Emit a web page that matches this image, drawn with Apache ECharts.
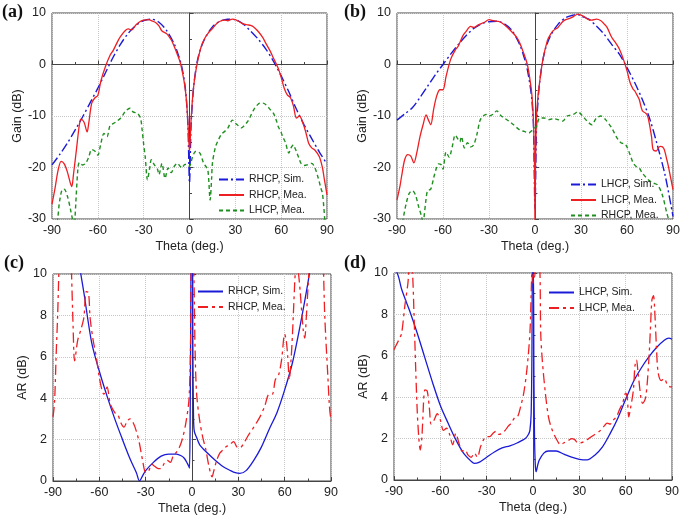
<!DOCTYPE html>
<html><head><meta charset="utf-8">
<script src="https://cdn.jsdelivr.net/npm/echarts@6/dist/echarts.min.js"></script>
<style>html,body{margin:0;padding:0;background:#fff}#c{width:685px;height:519px}</style>
</head><body><div id="c"></div>
<script>
// ---- Data (theta in deg, value in dB) ----
const thetaTicks = [-90,-60,-30,0,30,60,90];
const panelLabels = ['(a)','(b)','(c)','(d)'];

// (a) Gain, RHCP antenna
const a_rhcpSim = [[-90,-19.5],[-85,-17.5],[-80,-15.3],[-75,-12.8],[-70,-10.2],[-65,-7.4],[-60,-4.6],[-55,-1.6],[-50,1.4],[-45,4.0],[-40,6.1],[-35,7.6],[-30,8.5],[-25,8.8],[-20,8.2],[-15,6.6],[-10,4.0],[-7,1.6],[-5,-0.5],[-3,-4],[-2,-7],[-1,-12],[0,-23],[1,-12],[2,-7],[3,-3.5],[5,0.5],[7,2.8],[10,5.0],[15,7.3],[20,8.4],[25,8.8],[30,8.7],[35,7.9],[40,6.5],[45,4.9],[50,3.0],[55,0.6],[60,-2.2],[65,-5.3],[70,-8.7],[75,-11.7],[80,-14.4],[85,-17],[90,-19.3]];
const a_rhcpMea = [[-90,-27.1],[-88,-24],[-86,-20.5],[-84,-18.8],[-82,-19.3],[-80,-20.8],[-78,-23],[-77,-23.7],[-76,-21.5],[-74,-16.5],[-72,-11.5],[-71,-10.6],[-69,-11.2],[-67,-13.1],[-66,-11.5],[-64,-7.5],[-62,-6.5],[-60,-6.0],[-58,-3.2],[-55,-0.4],[-52,1.8],[-50,2.7],[-47,4.5],[-45,5.5],[-42,6.6],[-40,6.9],[-38,6.7],[-35,7.7],[-32,8.4],[-30,8.6],[-27,8.7],[-24,8.4],[-22,8.1],[-20,7.5],[-18,6.5],[-15,6.0],[-12,4.8],[-10,3.5],[-8,2.0],[-6,0.3],[-4,-2.5],[-3,-4.3],[-2,-7],[-1,-11.5],[0,-17],[1,-11],[2,-6.5],[3,-3.6],[4,-1.5],[6,1.6],[8,3.8],[10,5.1],[12,6.0],[15,7.0],[18,8.0],[20,8.4],[23,8.6],[25,8.5],[28,8.8],[30,8.7],[32,8.4],[35,7.9],[38,7.7],[40,7.6],[42,7.3],[45,6.4],[48,5.2],[50,4.1],[53,2.5],[55,1.2],[58,-0.7],[60,-2.5],[62,-4.6],[64,-5.9],[66,-6.4],[68,-8],[70,-10.4],[72,-10.0],[74,-11.2],[76,-13],[78,-15.3],[80,-16.2],[82,-16.6],[85,-17.9],[87,-20],[88,-21.8],[90,-25.3]];
const a_lhcpMea = [[-90,-36],[-88,-33],[-86.3,-30],[-85,-26.5],[-83,-24.2],[-82,-24.2],[-80,-25.5],[-78,-28],[-76,-31],[-75.5,-32],[-75,-30],[-73,-20],[-72,-19],[-70,-19.5],[-68,-19.2],[-66,-18],[-64,-16.5],[-62,-16.8],[-60,-17.6],[-58,-15.3],[-56,-13.4],[-54,-14],[-52,-11.8],[-50,-11.5],[-48,-11.1],[-45,-10.4],[-42,-9.1],[-39,-8.5],[-37,-9.2],[-34,-9.5],[-32,-10.5],[-31,-12.7],[-30,-15.5],[-29,-17.9],[-27.5,-22.4],[-26,-20],[-25,-18.5],[-23,-19.5],[-21,-20.3],[-20,-21.4],[-18,-19.2],[-16,-22.1],[-14,-20.1],[-12,-21],[-10,-19.8],[-8,-19.2],[-6,-19.8],[-5,-20.1],[-3,-19.4],[-1,-19.5],[0,-19.8],[1,-19],[2,-17.9],[4,-16.9],[5,-16.9],[7,-17.3],[9,-19],[10,-19.5],[12,-20.5],[13.5,-26.3],[14.5,-22],[15,-19.2],[17,-16],[19,-14.6],[21,-13.5],[23,-13],[25,-12.4],[27,-11.2],[28,-10.8],[30,-11.4],[32,-11.9],[34,-12.3],[36,-11.8],[38,-11.1],[40,-10],[42,-8.8],[44,-8],[46,-7.5],[48,-7.5],[50,-7.8],[53,-8.8],[55,-9.5],[57,-11],[58,-12],[60,-13.2],[61,-14],[63,-15.3],[64,-16.5],[65,-17.2],[66,-16.5],[67,-15.9],[68,-15.6],[69,-16.2],[70,-16.9],[72,-18.5],[73,-19.2],[75,-19.6],[77,-19.5],[80,-19.2],[82,-20],[84,-21.8],[86,-24],[87,-25],[88,-28],[88.5,-30],[89.5,-33]];

// (b) Gain, LHCP antenna
const b_lhcpSim = [[-90,-10.8],[-85,-9.6],[-80,-8.4],[-75,-6.4],[-70,-4.2],[-65,-2.0],[-60,0],[-55,2.0],[-50,3.9],[-45,5.6],[-40,7.0],[-35,7.9],[-30,8.3],[-25,8.4],[-20,7.9],[-15,6.6],[-10,3.9],[-7,1.3],[-5,-1],[-3,-4.5],[-2,-7],[-1,-12],[0,-28],[1,-12],[2,-7],[3,-3.5],[5,0.7],[7,3.2],[10,5.5],[15,7.8],[20,9.1],[25,9.6],[28,9.7],[30,9.4],[35,8.8],[40,7.5],[45,5.9],[50,3.9],[55,2.0],[60,-0.6],[65,-3.5],[70,-6.8],[75,-10.7],[80,-15.9],[85,-21.7],[90,-29.5]];
const b_lhcpMea = [[-90,-26.3],[-88,-23.5],[-87,-21.7],[-85,-18.5],[-83,-17.5],[-81,-17.8],[-79,-19.1],[-77,-17],[-75,-14],[-73,-11.7],[-71,-9.8],[-69.5,-10.8],[-68,-11.7],[-66,-8.5],[-64,-6],[-62,-4.9],[-60,-4.9],[-58,-2.3],[-55,1.0],[-52,2.8],[-50,3.6],[-47,5.6],[-45,6.4],[-42,7.4],[-40,7.2],[-37,7.7],[-33,8.2],[-30,8.7],[-27,8.5],[-23,8.3],[-20,7.7],[-16,6.6],[-12,5.3],[-10,4.2],[-8,2.7],[-5,0],[-3,-3.5],[-2,-6],[-1,-11],[-0.3,-20],[0,-32],[0.3,-20],[1,-10],[2,-6],[3,-3.5],[5,0.7],[8,4.6],[10,5.8],[12,6.6],[15,7.2],[18,8.3],[20,8.7],[23,9.0],[25,9.3],[28,9.8],[30,9.6],[32,9.3],[35,8.7],[37,8.6],[40,8.8],[43,8.5],[45,7.9],[47,7.2],[50,5.3],[53,4.0],[55,3.0],[58,0.7],[60,-1.2],[62,-3.5],[64,-4.8],[65,-5.1],[67,-6.2],[68,-6.8],[70,-9.0],[72,-9.4],[73,-9.7],[74,-10.6],[76,-14],[77,-16.5],[79,-16.8],[81,-16],[82,-15.9],[84,-16.3],[86,-18.5],[87,-19.8],[90,-24.3]];
const b_rhcpMea = [[-90,-36],[-87,-32],[-86,-30],[-84,-27],[-82,-25],[-80,-24.5],[-78,-25.3],[-76,-27.5],[-74,-29.5],[-73,-31],[-72.5,-30],[-71,-26],[-70,-24.5],[-68,-24.2],[-66,-21.9],[-64,-19.8],[-63,-19.3],[-61,-19.5],[-60,-20.3],[-58,-17],[-56,-18],[-54,-16],[-52,-13.7],[-50,-14.6],[-49,-15],[-48,-14],[-46,-16.2],[-44,-15.2],[-42,-16],[-40,-15.6],[-38,-13.7],[-36,-11],[-35,-10.4],[-32,-9.7],[-30,-10],[-27,-9.6],[-25,-9.0],[-22,-10],[-20,-10.4],[-17,-11],[-14,-11.7],[-10,-12.7],[-7,-13],[-4,-13.3],[-2,-12.8],[-1,-12.5],[1,-12],[3,-10.4],[6,-10.4],[9,-10.7],[12,-10.5],[15,-10.7],[18,-11],[21,-10],[25,-9.7],[28,-9.2],[31,-10],[34,-11],[37,-11.7],[40,-10.4],[43,-10],[46,-10.7],[50,-12.3],[53,-14],[56,-15.2],[59,-15.5],[62,-17.5],[64,-19.1],[66,-19.8],[68,-20.1],[70,-21.1],[74,-22.4],[77,-23],[80,-23.4],[83,-25.3],[86,-28.9],[87,-30],[88,-33]];

// (c) AR, RHCP antenna
const c_rhcpSim = [[-76,11.8],[-72,10.0],[-70,9.1],[-65,6.7],[-60,5.3],[-55,4.1],[-50,3.0],[-45,2.0],[-40,1.05],[-36,0.4],[-34,0],[-32,0.25],[-30,0.5],[-25,0.9],[-20,1.2],[-15,1.3],[-10,1.3],[-7,1.22],[-5,1.1],[-3,0.85],[-2,0.7],[-1.6,0.62],[-1.2,3],[-0.8,8],[-0.4,12],[0.2,12],[0.6,6],[1,3],[1.5,2.4],[3,2.1],[5,1.75],[10,1.35],[15,1.0],[20,0.7],[25,0.5],[28,0.4],[31,0.37],[35,0.5],[40,1.0],[45,1.65],[50,2.5],[55,3.3],[60,4.4],[65,5.7],[70,7.5],[75,9.55],[78,11]];
const c_rhcpMea = [[-90,3.1],[-89,3.8],[-88,6],[-87,8],[-86,10.5],[-85,12],[-79,12],[-78,10],[-77,7.5],[-76,5.8],[-74,6.8],[-72,7.3],[-70,7.9],[-68.5,9.15],[-67,9.1],[-66,7.9],[-64,6.8],[-62,6.0],[-60,5.0],[-58,4.3],[-57,4.2],[-55,4.55],[-53,3.75],[-50,3.3],[-48,3.2],[-46,2.8],[-44,2.6],[-42,2.9],[-40,3.0],[-38,2.8],[-36,2.4],[-34,1.8],[-32,1.0],[-30,0.4],[-28,0.5],[-26,0.8],[-24,0.7],[-22,0.6],[-20,0.6],[-18,0.85],[-16,1.0],[-14,0.9],[-12,1.25],[-10,1.4],[-8,1.65],[-6,2.1],[-4,2.8],[-2,3.9],[-1,6.3],[-0.5,10.5],[0,11],[0.5,11],[1.2,10],[2,6.3],[3,4.2],[5,2.9],[7,2.1],[9,1.5],[11,0.7],[13,0.2],[14,0.45],[16,1.0],[18,1.35],[20,1.5],[22,1.65],[25,1.8],[27,1.9],[29,1.65],[31,1.6],[33,1.75],[36,2.15],[40,2.6],[44,3.1],[47,3.6],[50,4.2],[52,4.2],[54,4.9],[56,5.1],[58,5.85],[60,7.1],[61,6.8],[62,6.0],[63,4.9],[64,5.7],[65,7.0],[66,8.7],[67,10.2],[68,10.6],[69,10],[70,9.2],[72,7.3],[73,6.9],[74,7.9],[75,9.2],[76,10.5],[77,12],[84,12],[85,10.5],[86,7.9],[88,5.0],[89,3.6],[90,2.9]];

// (d) AR, LHCP antenna
const d_lhcpSim = [[-90,10.4],[-87,9.8],[-85,9.2],[-80,8.2],[-75,7.1],[-70,5.9],[-65,4.7],[-60,3.6],[-55,2.75],[-50,1.95],[-45,1.3],[-40,0.9],[-38,0.8],[-35,0.85],[-30,1.1],[-25,1.35],[-20,1.55],[-15,1.65],[-10,1.8],[-5,2.0],[-3,2.2],[-2,2.4],[-1.2,3.2],[-0.7,6],[-0.3,10.5],[0.2,10.5],[0.6,5],[1,2],[1.5,0.7],[2,0.4],[3,0.7],[4,0.95],[7,1.3],[10,1.4],[15,1.4],[20,1.25],[25,1.1],[30,1.0],[35,0.97],[40,1.2],[45,1.6],[50,2.25],[55,3.0],[60,3.9],[65,4.75],[70,5.4],[75,5.95],[80,6.4],[85,6.75],[88,6.85],[90,6.8]];
const d_lhcpMea = [[-90,6.3],[-88,6.6],[-86,6.9],[-85,7.1],[-83,8.4],[-81,9.5],[-80,10.4],[-79,10.5],[-78,10],[-77,7.9],[-76,5.5],[-75,3.4],[-74,2.1],[-73,1.45],[-72,2.0],[-71.5,2.7],[-70,4.35],[-68.5,4.3],[-67,3.4],[-66,2.7],[-64,2.9],[-62,3.2],[-60,2.9],[-58,2.4],[-56,2.5],[-54,2.2],[-52,1.7],[-50,2.25],[-48,1.8],[-46,1.4],[-44,1.45],[-42,1.2],[-40,1.1],[-38,1.3],[-36,1.1],[-34,1.6],[-32,1.95],[-30,2.1],[-28,2.1],[-26,2.25],[-24,2.35],[-22,2.2],[-20,2.25],[-18,2.4],[-16,2.6],[-14,2.75],[-12,3.0],[-10,3.05],[-8,3.55],[-6,4.2],[-4,5.3],[-2,7.1],[-1,9.5],[-0.5,10.5],[0,9.5],[0.5,10.5],[1,9.8],[2,10.5],[3.5,11],[4.5,10],[5,7.1],[6,5.8],[8,4.2],[10,3.05],[12,2.5],[15,2.0],[18,1.7],[20,1.8],[22,1.85],[25,2.0],[27,1.95],[29,1.8],[31,1.8],[33,1.85],[36,2.0],[38,2.1],[40,2.2],[43,2.35],[46,2.6],[48,2.75],[50,2.7],[52,2.9],[54,3.05],[56,3.4],[58,3.7],[60,4.2],[61,4.0],[62,3.05],[63,3.4],[65,4.35],[66,5.5],[67,5.8],[68,5.2],[70,3.9],[71,3.7],[73,4.0],[75,5.8],[76,7.25],[77,8.7],[78,8.9],[79,7.9],[80,6.3],[81,5.2],[83,4.8],[85,4.9],[87,4.6],[89,4.5],[90,4.5]];

// ---- Chart ----
const FONT = "Arial, 'Liberation Sans', sans-serif";
const TXT = '#222';
const BLUE = '#1a1ad8', RED = '#ee1f23', GREEN = '#1f8f1f';
const DASHDOT = [9,3,2,3], REDDASHDOT = [10,4,3,4], DASH = [4,3];

const grids = [
  {left:52, top:13, right:358, bottom:300},
  {left:397, top:13, right:12, bottom:300},
  {left:53, top:274, right:354, bottom:38},
  {left:394, top:273, right:13, bottom:39}
].map(g => Object.assign(g, {show:true, borderColor:'#444', borderWidth:1, backgroundColor:'transparent'}));

function xAx(i){
  return {type:'value', gridIndex:i, min:-90, max:90, interval:30,
    name:'Theta (deg.)', nameLocation:'middle', nameGap:21,
    nameTextStyle:{fontFamily:FONT, fontSize:12.5, color:TXT},
    axisLine:{show:true, lineStyle:{color:'#444', width:1}},
    axisTick:{show:true, inside:true, length:4, lineStyle:{color:'#444'}},
    minorTick:{show:true, splitNumber:2, length:2.5, lineStyle:{color:'#444'}},
    axisLabel:{fontFamily:FONT, fontSize:12.5, color:TXT, margin:5,
      formatter: v => thetaTicks.includes(v) ? String(v) : ''},
    splitLine:{show:true, lineStyle:{color:'#c8c8c8', type:'dotted', width:1}}};
}
function yAx(i, min, max, interval, name){
  return {type:'value', gridIndex:i, min:min, max:max, interval:interval,
    name:name, nameLocation:'middle', nameGap:19,
    nameTextStyle:{fontFamily:FONT, fontSize:12.5, color:TXT},
    axisLine:{show:true, lineStyle:{color:'#444', width:1}},
    axisTick:{show:true, inside:true, length:4, lineStyle:{color:'#444'}},
    minorTick:{show:true, splitNumber:2, length:2.5, lineStyle:{color:'#444'}},
    axisLabel:{fontFamily:FONT, fontSize:12.5, color:TXT, margin:6},
    splitLine:{show:true, lineStyle:{color:'#c8c8c8', type:'dotted', width:1}}};
}

function ser(name, idx, data, color, dash, width, smooth){
  return {name:name, type:'line', xAxisIndex:idx, yAxisIndex:idx, data:data,
    symbol:'none', showSymbol:false, smooth:smooth, clip:true, animation:false,
    lineStyle:{color:color, width:width, type:dash}, itemStyle:{color:color}};
}

const series = [
  ser('a|RHCP, Sim.', 0, a_rhcpSim, BLUE, DASHDOT, 1.4, 0.3),
  ser('a|RHCP, Mea.', 0, a_rhcpMea, RED, 'solid', 1.3, 0.3),
  ser('a|LHCP, Mea.', 0, a_lhcpMea, GREEN, DASH, 1.4, 0.3),
  ser('b|LHCP, Sim.', 1, b_lhcpSim, BLUE, DASHDOT, 1.4, 0.3),
  ser('b|LHCP, Mea.', 1, b_lhcpMea, RED, 'solid', 1.3, 0.3),
  ser('b|RHCP, Mea.', 1, b_rhcpMea, GREEN, DASH, 1.4, 0.3),
  ser('c|RHCP, Sim.', 2, c_rhcpSim, BLUE, 'solid', 1.3, 0.3),
  ser('c|RHCP, Mea.', 2, c_rhcpMea, RED, REDDASHDOT, 1.3, 0.3),
  ser('d|LHCP, Sim.', 3, d_lhcpSim, BLUE, 'solid', 1.3, 0.3),
  ser('d|LHCP, Mea.', 3, d_lhcpMea, RED, REDDASHDOT, 1.3, 0.3)
];

function leg(prefix, names, left, top){
  return {orient:'vertical', left:left, top:top, itemWidth:25, itemHeight:10, itemGap:4.5,
    padding:0, selectedMode:false,
    itemStyle:{opacity:0, borderWidth:0, color:'rgba(0,0,0,0)'},
    data: names.map(n => prefix + '|' + n),
    formatter: n => n.split('|')[1],
    textStyle:{fontFamily:FONT, fontSize:10.5, color:TXT}};
}

const option = {
  backgroundColor:'#fff',
  animation:false,
  title: panelLabels.map((t,i) => ({text:t, left:[2,344,4,344][i], top:[3,3,254,254][i],
    textStyle:{fontFamily:"'Liberation Serif', 'Times New Roman', serif", fontWeight:'bold', fontSize:18, color:'#111'}, padding:0})),
  grid: grids,
  xAxis: [0,1,2,3].map(xAx),
  yAxis: [yAx(0,-30,10,10,'Gain (dB)'), yAx(1,-30,10,10,'Gain (dB)'), yAx(2,0,10,2,'AR (dB)'), yAx(3,0,10,2,'AR (dB)')],
  legend: [
    leg('a', ['RHCP, Sim.','RHCP, Mea.','LHCP, Mea.'], 218, 174),
    leg('b', ['LHCP, Sim.','LHCP, Mea.','RHCP, Mea.'], 570, 179),
    leg('c', ['RHCP, Sim.','RHCP, Mea.'], 197, 286),
    leg('d', ['LHCP, Sim.','LHCP, Mea.'], 548, 287)
  ],
  series: series
};
const chart = echarts.init(document.getElementById('c'), null, {renderer:'canvas'});
chart.setOption(option);
</script></body></html>
